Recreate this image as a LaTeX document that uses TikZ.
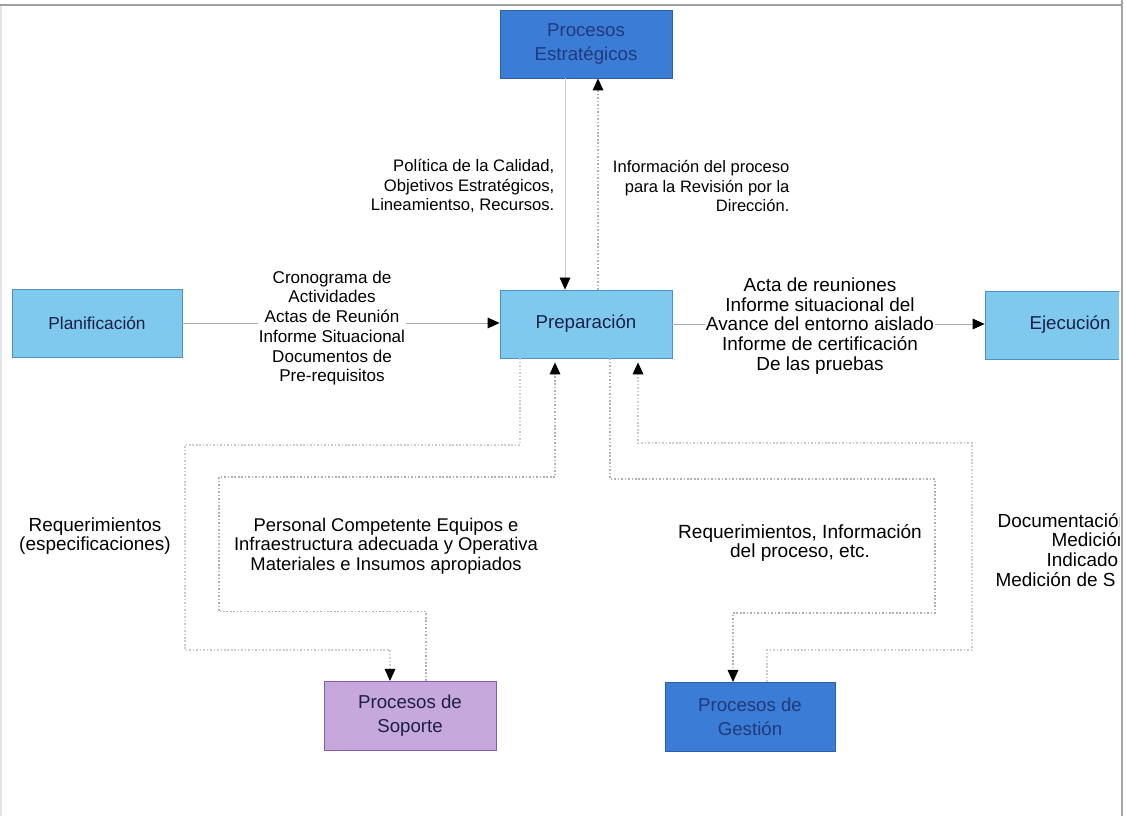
\documentclass[tikz,border=0pt]{standalone}
\usepackage{fontspec}
\setmainfont{Liberation Sans}
\usetikzlibrary{arrows.meta,calc}

\definecolor{lightbox}{HTML}{7FC9EF}
\definecolor{lightedge}{HTML}{4F8FC4}
\definecolor{darkbox}{HTML}{3B7DD6}
\definecolor{darkedge}{HTML}{2C5FA6}
\definecolor{darktext}{HTML}{22397A}
\definecolor{lilac}{HTML}{C6A8DC}
\definecolor{lilacedge}{HTML}{8060A8}
\definecolor{navy}{HTML}{1B1F45}

\begin{document}
\begin{tikzpicture}[x=0.75pt,y=-0.75pt,
  box/.style={draw, line width=0.6pt, minimum width=129pt, minimum height=51pt,
              inner sep=2pt, align=center, font=\fontsize{14}{18}\selectfont},
  lightproc/.style={box, fill=lightbox, draw=lightedge, text=navy},
  darkproc/.style={box, fill=darkbox, draw=darkedge, text=darktext},
  supproc/.style={box, fill=lilac, draw=lilacedge, text=navy},
  lbl/.style={align=center, font=\fontsize{13.5}{14.8}\selectfont, inner sep=1pt},
  fs/.style={font=\fontsize{#1}{14.8}\selectfont},
  tip/.style={-{Triangle[length=9pt,width=8pt,color=black]}},
  flow/.style={draw=gray!65, line width=0.6pt},
  dots/.style={draw=gray!60, line width=0.8pt, dash pattern=on 1.2pt off 1.4pt},
  faintdots/.style={draw=gray!40, line width=0.8pt, dash pattern=on 1.2pt off 1.4pt},
]
\useasboundingbox (0,0) rectangle (1126,816);

% frame
\draw[gray!20, line width=0.8pt] (1,5) -- (1,816);
\draw[gray!75, line width=1.5pt] (0,5) -- (1122,5);
\draw[gray!70, line width=1.5pt] (1122,0) -- (1122,816);

% process boxes
\node[darkproc] (est) at (586,44) {Procesos\\Estratégicos};
\node[lightproc] (prep) at (586,324) {Preparación};
\node[lightproc, minimum width=127.5pt, font=\fontsize{13}{16}\selectfont] (plan) at (97,323) {Planificación};
\node[supproc, minimum height=52pt] (sop) at (410,716) {Procesos de\\Soporte};
\node[darkproc, minimum height=52pt, minimum width=127.5pt] (gest) at (750,717) {Procesos de\\Gestión};

% right-hand items run past the frame and are cut by it
\begin{scope}
  \clip (0,0) rectangle (1119,816);
  \node[lightproc, minimum width=127.5pt] (ejec) at (1070,325) {Ejecución};
  \node[lbl, fs=14.2, anchor=west] (doc1) at (996,521) {Documentación};
  \node[lbl, fs=14.2, anchor=west] (doc2) at (1050,540) {Medición};
  \node[lbl, fs=14.2, anchor=west] (doc3) at (1045,560) {Indicado};
  \node[lbl, fs=14.2, anchor=west] (doc4) at (994,580) {Medición de S};
\end{scope}

% main flow
\draw[flow, tip] (plan.east) -- (plan.east -| prep.west);
\draw[flow, tip] (prep.east) -- (prep.east -| ejec.west);

% strategic processes
\draw[flow, draw=gray!45, tip] ($(est.south)+(-21,0)$) -- ($(prep.north)+(-21,0)$);
\draw[dots, tip] ($(prep.north)+(12,0)$) -- ($(est.south)+(12,0)$);

% support processes
\draw[faintdots, tip] ($(prep.south)+(-66,0)$) |- (185,445) |- (390,650) -- ($(sop.north)+(-20,0)$);
\draw[dots, tip] ($(sop.north)+(16,0)$) -- ++(0,-69) -| (219,477) -| ($(prep.south)+(-31,4)$);

% management processes
\draw[dots, tip] ($(prep.south)+(24,0)$) |- (935,479) |- (733,613) -- ($(gest.north)+(-17,0)$);
\draw[faintdots, tip] ($(gest.north)+(17,0)$) |- (972,650) |- (638,443) -- ($(prep.south)+(52,4)$);

% labels
\node[lbl, fs=12.8, fill=white] (lplan) at (332,328) {Cronograma de\\Actividades\\Actas de Reunión\\Informe Situacional\\Documentos de\\Pre-requisitos};
\node[lbl, fs=14.2, fill=white] (lejec) at (820,326) {Acta de reuniones\\Informe situacional del\\Avance del entorno aislado\\Informe de certificación\\De las pruebas};
\node[lbl, fs=12.5, align=right, anchor=east] (lpol) at (556,186) {Política de la Calidad,\\Objetivos Estratégicos,\\Lineamientso, Recursos.};
\node[lbl, fs=12.4, align=right, anchor=east] (linfo) at (791,186) {Información del proceso\\para la Revisión por la\\Dirección.};
\node[lbl, fs=14.2] (lreq) at (95,536) {Requerimientos\\(especificaciones)};
\node[lbl, fs=13.8] (lpers) at (386,546) {Personal Competente Equipos e\\Infraestructura adecuada y Operativa\\Materiales e Insumos apropiados};
\node[lbl, fs=14.3] (lgest) at (800,543) {Requerimientos, Información\\del proceso, etc.};
\end{tikzpicture}
\end{document}
